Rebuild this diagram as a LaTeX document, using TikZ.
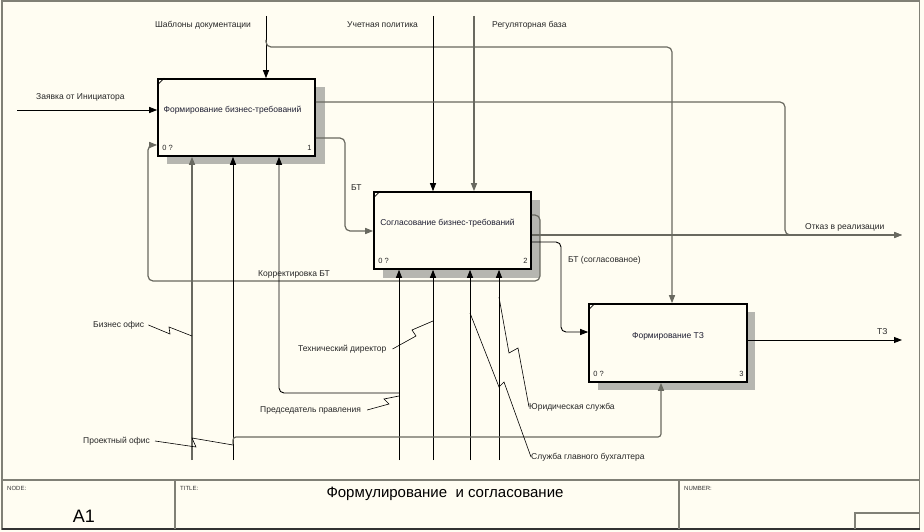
\documentclass[tikz,border=0pt]{standalone}
\usepackage{fontspec}
\setmainfont{Liberation Sans}
\usetikzlibrary{arrows.meta,calc}
\definecolor{bg}{RGB}{255,253,242}
\definecolor{framec}{RGB}{128,128,118}
\definecolor{gline}{RGB}{105,105,96}
\definecolor{shadc}{RGB}{182,182,176}
\definecolor{boxtext}{RGB}{30,30,50}
\begin{document}
\begin{tikzpicture}[x=1pt,y=-1pt,
  lbl/.style={font=\fontsize{8.5}{10}\selectfont, text=black!85, inner sep=0pt, anchor=west},
  boxs/.style={draw=black, line width=1.6pt, fill=bg, minimum width=157pt, minimum height=77pt, inner sep=0pt},
  boxtxt/.style={font=\fontsize{8.5}{10}\selectfont, text=boxtext, inner sep=0pt},
  blk/.style={draw=black, line width=0.9pt},
  gry/.style={draw=gline, line width=1.2pt},
  arr/.style={-{Triangle[length=8pt,width=6pt]}},
  sq/.style={draw=black, line width=0.6pt},
  small/.style={font=\fontsize{7.5}{9}\selectfont, inner sep=0pt, text=black!85},
  foot/.style={font=\fontsize{6}{7}\selectfont, inner sep=0pt, text=black!80, anchor=west},
  shad/.style={fill=shadc},
  rc/.style={rounded corners=5pt}
]
\fill[bg] (0,0) rectangle (924,532);
\useasboundingbox (0,0) rectangle (924,532);

% frame
\draw[framec, line width=2pt] (2,1) -- (919.5,1);
\draw[framec, line width=2.2pt] (2,0) -- (2,530);
\draw[framec, line width=1.6pt] (919.5,0) -- (919.5,530);
\draw[framec, line width=1.6pt] (2,480) -- (920,480);
\draw[black!80, line width=1.6pt] (2,529) -- (920,529);
\draw[framec, line width=1.6pt] (175,480) -- (175,529);
\draw[framec, line width=1.6pt] (679,480) -- (679,529);
\draw[framec, line width=1.2pt] (855,529) -- (855,513) -- (919.5,513);

% footer texts
\node[foot] (fnode) at (7,488) {NODE:};
\node[foot] (ftitle) at (180,488) {TITLE:};
\node[foot] (fnum) at (684,488) {NUMBER:};
\node[font=\fontsize{18}{20}\selectfont, inner sep=0pt] (fa1) at (84,516) {A1};
\node[font=\fontsize{15}{18}\selectfont, inner sep=0pt] (ftt) at (445,494) {Формулирование~~и согласование};

% shadows
\fill[shad] (167,87) rectangle (325,164);
\fill[shad] (383,200) rectangle (540,278);
\fill[shad] (598,312) rectangle (755,390);

% boxes
\node[boxs] (box1) at (236.5,117.5) {};
\node[boxs] (box2) at (452.5,230.5) {};
\node[boxs, minimum width=158pt, minimum height=78pt] (box3) at (668,343) {};
\node[boxtxt] (t1) at ($(box1.center)+(-4,-7)$) {Формирование бизнес-требований};
\node[boxtxt] (t2) at ($(box2.center)+(-5,-7)$) {Согласование бизнес-требований};
\node[boxtxt] (t3) at ($(box3.center)+(0,-7)$) {Формирование ТЗ};
\foreach \b/\n in {box1/1,box2/2,box3/3}{
  \draw[line width=0.8pt] ($(\b.north west)+(0,7)$) -- ($(\b.north west)+(7,0)$);
  \node[small, anchor=west] at ($(\b.south west)+(5,-9)$) {0 ?};
  \node[small, anchor=east] at ($(\b.south east)+(-4,-9)$) {\n};
}

% coordinates
\coordinate (shab) at (266,16);
\coordinate (shabB) at (266,40);
\coordinate (sh3) at (672,47);
\coordinate (uch) at (433,16);
\coordinate (reg) at (474,16);
\coordinate (zay) at (17,110);
\coordinate (bta) at (345,138);
\coordinate (btb) at (345,231);
\coordinate (o1) at (785,102);
\coordinate (o2) at (785,235);
\coordinate (otk) at (902,235);
\coordinate (k1) at (540,215);
\coordinate (k2) at (540,281);
\coordinate (k3) at (148,281);
\coordinate (k4) at (148,145);
\coordinate (s1) at (561,242);
\coordinate (s2) at (561,332);
\coordinate (tz) at (902,340);
\coordinate (m1) at (192,460);
\coordinate (m2) at (233,460);
\coordinate (m3) at (279,393);
\coordinate (p1) at (399,393);
\coordinate (n1) at (399,460);
\coordinate (n2) at (433,460);
\coordinate (n3) at (470,460);
\coordinate (n4) at (499,460);
\coordinate (q0) at (233,444);
\coordinate (q1) at (661,437);

% controls
\draw[blk,arr] (shab) -- (shab |- box1.north);
\draw[gry,arr,rc] (shabB) |- (sh3) -- (sh3 |- box3.north);
\draw[blk,arr] (uch) -- (uch |- box2.north);
\draw[gry,arr] (reg) -- (reg |- box2.north);

% inputs / outputs
\draw[blk,arr] (zay) -- (zay -| box1.west);
\draw[gry,arr,rc] (bta -| box1.east) -- (bta) -- (btb) -- (btb -| box2.west);
\draw[gry,arr,rc] (o1 -| box1.east) -- (o1) -- (o2) -- (otk);
\draw[gry,arr] (otk -| box2.east) -- (otk);
\draw[gry,arr,rc] (k1 -| box2.east) -- (k1) -- (k2) -- (k3) -- (k4) -- (k4 -| box1.west);
\draw[blk,arr,rc] (s1 -| box2.east) -- (s1) -- (s2) -- (s2 -| box3.west);
\draw[blk,arr] (tz -| box3.east) -- (tz);

% mechanisms
\draw[gry,arr] (m1) -- (m1 |- box1.south);
\draw[blk,arr] (m2) -- (m2 |- box1.south);
\draw[blk,arr,rc] (p1) -- (m3) -- (m3 |- box1.south);
\draw[blk,arr] (n1) -- (n1 |- box2.south);
\draw[blk,arr] (n2) -- (n2 |- box2.south);
\draw[blk,arr] (n3) -- (n3 |- box2.south);
\draw[blk,arr] (n4) -- (n4 |- box2.south);
\draw[gry,arr,rounded corners=3pt] (q0) |- (q1) -- (q1 |- box3.south);

% labels
\node[lbl] (lshab) at (155,25) {Шаблоны документации};
\node[lbl] (luch) at (347,25) {Учетная политика};
\node[lbl] (lreg) at (492,25) {Регуляторная база};
\node[lbl] (lzay) at (36,97) {Заявка от Инициатора};
\node[lbl] (lbt) at (351,188) {БТ};
\node[lbl] (lotk) at (805,227) {Отказ в реализации};
\node[lbl] (lbts) at (568,260) {БТ (согласованое)};
\node[lbl] (lkor) at (258,274) {Корректировка БТ};
\node[lbl] (ltz) at (877,332) {ТЗ};
\node[lbl] (lbiz) at (93,325) {Бизнес офис};
\node[lbl] (ltech) at (298,349) {Технический директор};
\node[lbl] (lpred) at (260,410) {Председатель правления};
\node[lbl] (lyur) at (529,407) {Юридическая служба};
\node[lbl] (lproj) at (83,441) {Проектный офис};
\node[lbl] (lbuh) at (531,457) {Служба главного бухгалтера};

% squiggles
\draw[sq] (lbiz.east)+(4,0) -- (170,334) -- (169,327) -- (192,336);
\draw[sq] (lproj.east)+(5,0) -- (196,447) -- (192,438) -- (233,445);
\draw[sq] (lpred.east)+(6,0) -- (389,404) -- (384,399) -- (399,396);
\draw[sq] (ltech.east)+(6,0) -- (416,336) -- (412,330) -- (433,321);
\draw[sq] (499,297) -- (509,353) -- (518,348) -- (lyur.west);
\draw[sq] (470,313) -- (499,387) -- (504,382) -- (lbuh.west);
\end{tikzpicture}
\end{document}
